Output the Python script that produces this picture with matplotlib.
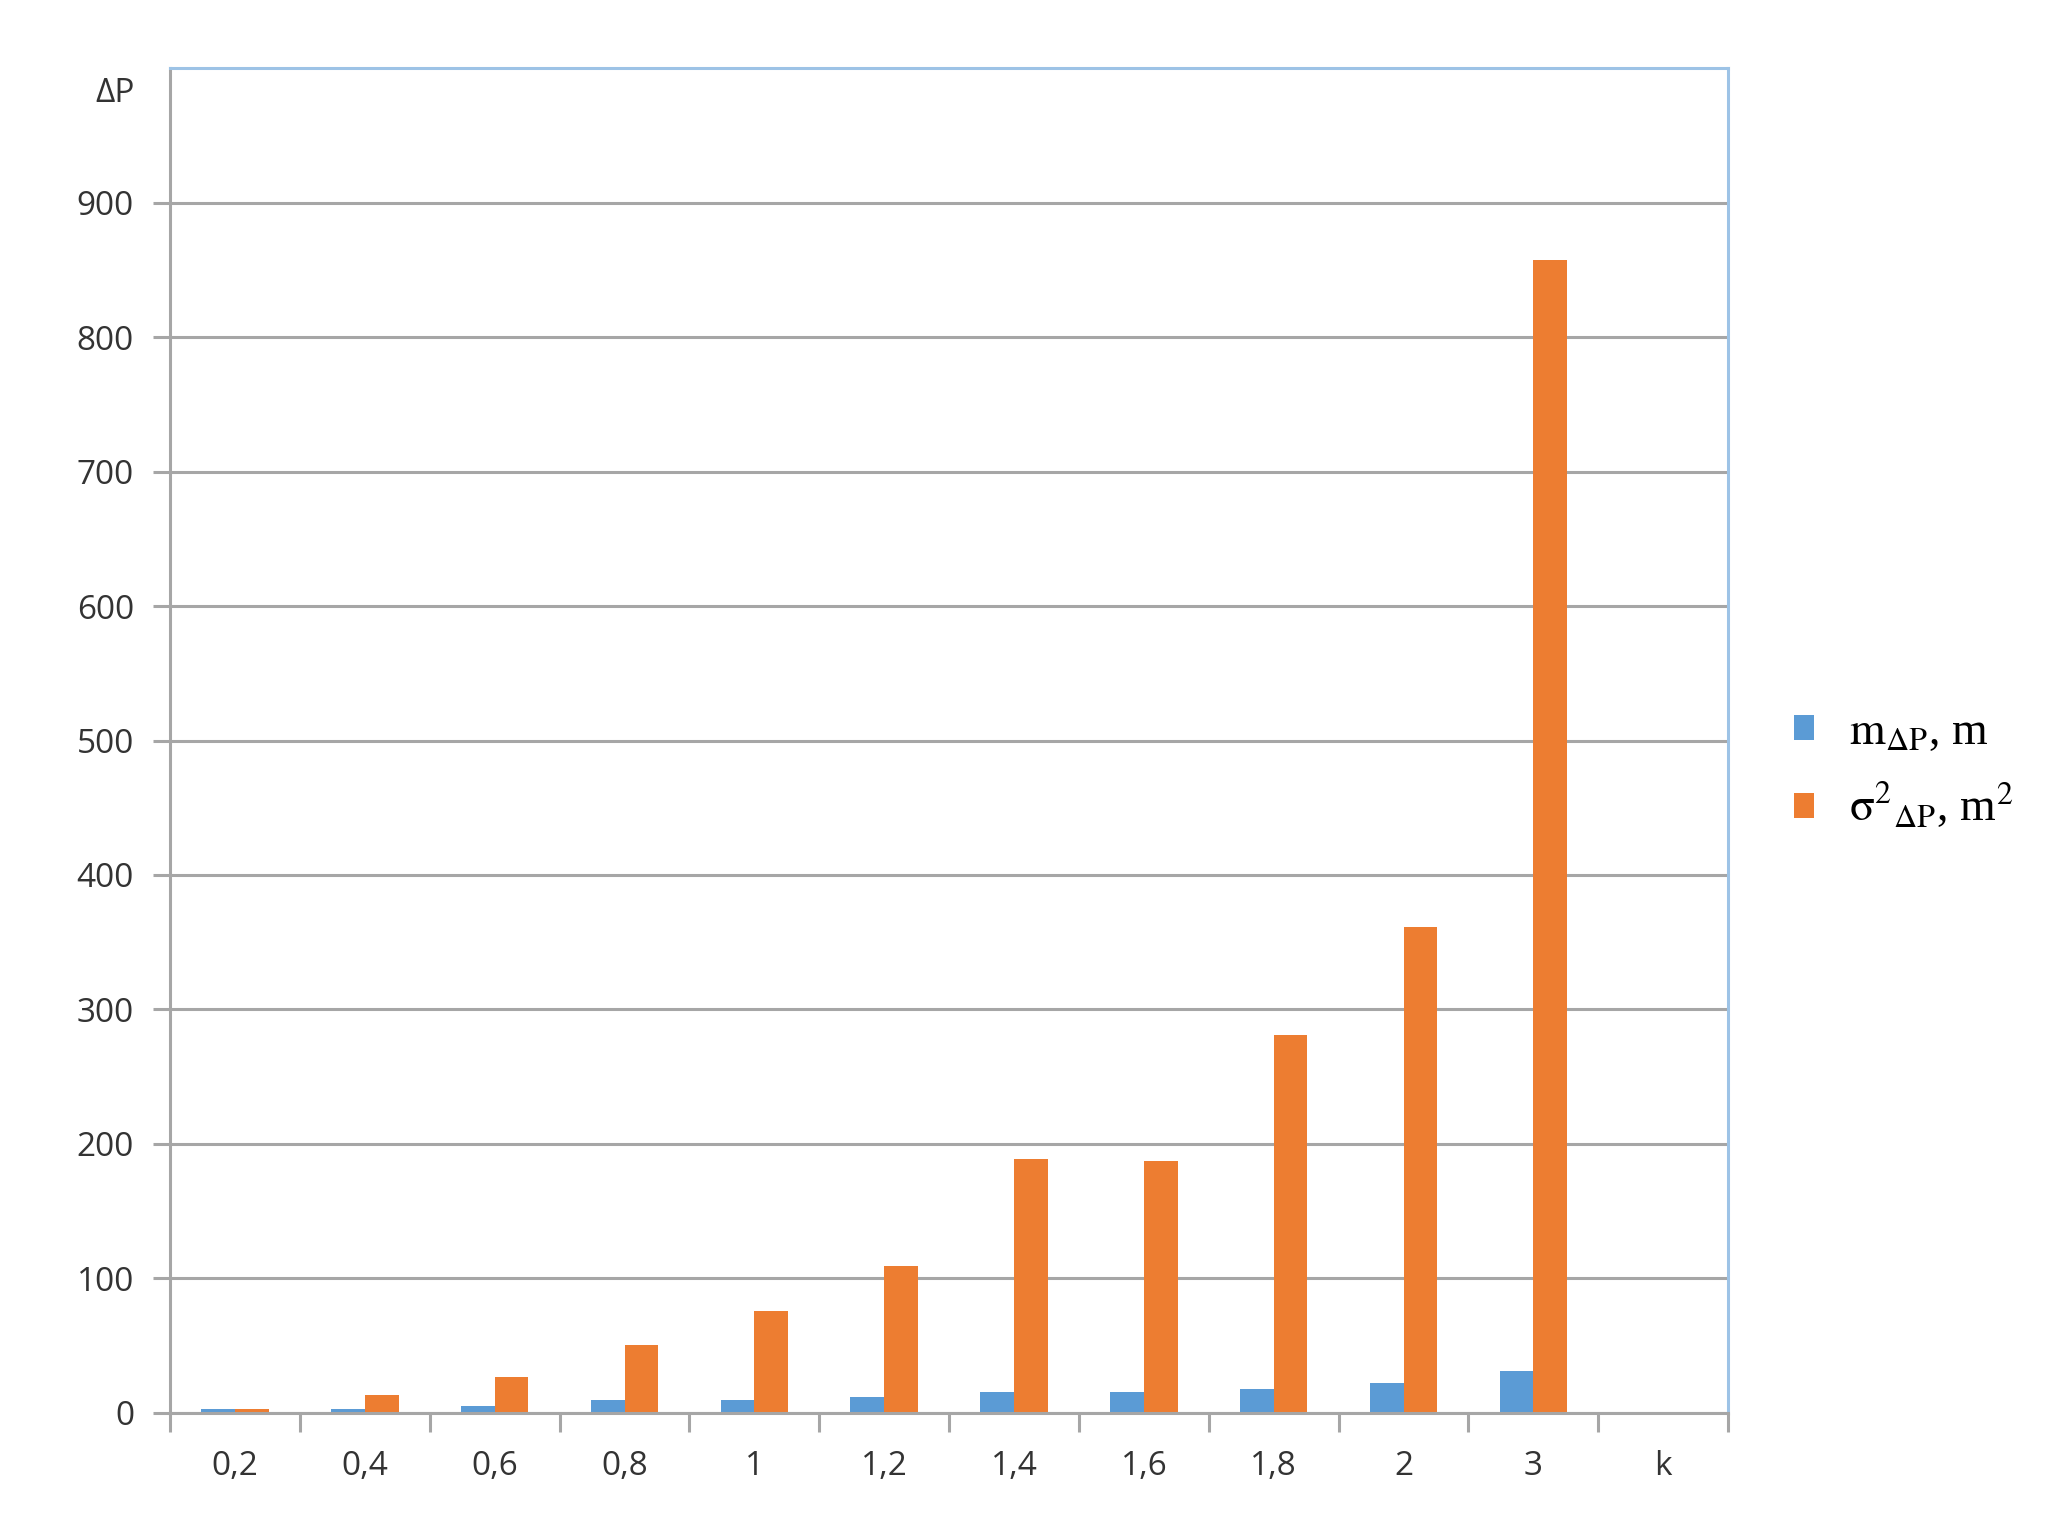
import numpy as np
import matplotlib
matplotlib.use("Agg")
import matplotlib.pyplot as plt

# values
categories = ["0,2", "0,4", "0,6", "0,8", "1", "1,2", "1,4", "1,6", "1,8", "2", "3", "k"]
m_dp = [3, 3, 5.5, 9.5, 9.5, 11.5, 15.5, 15.5, 18, 22.5, 31, 0]
sigma2_dp = [3, 13.5, 26.5, 50.5, 76, 109, 189, 187, 281, 361, 857, 0]
yticks = [0, 100, 200, 300, 400, 500, 600, 700, 800, 900]

blue = "#5B9BD5"
orange = "#ED7D31"
grid_col = "#A6A6A6"
txt_col = "#333333"

plt.rcParams['font.family'] = ['Open Sans', 'DejaVu Sans']
plt.rcParams['mathtext.fontset'] = 'stix'

fig = plt.figure(figsize=(20.5, 15.4), dpi=100)
ax = fig.add_axes([0.083, 0.0825, 0.76, 0.8733])

x = np.arange(len(categories))
w = 0.26
ax.bar(x - w / 2, m_dp, w, color=blue, label=r"$\mathrm{m_{\Delta P}}$, m", zorder=3)
ax.bar(x + w / 2, sigma2_dp, w, color=orange, label=r"$\mathrm{\sigma^2{}_{\Delta P}}$, m$^2$", zorder=3)

ax.set_xlim(-0.5, len(categories) - 0.5)
ax.set_ylim(0, 1000)

ax.set_yticks(yticks)
ax.set_yticklabels([str(v) for v in yticks], fontsize=24, color=txt_col)
ax.yaxis.grid(True, color=grid_col, linewidth=2.2, zorder=0)
ax.tick_params(axis='y', length=12, width=2.2, color=grid_col, pad=14)

ax.set_xticks(x)
ax.set_xticklabels(categories, fontsize=24, color=txt_col)
ax.set_xticks(np.arange(-0.5, len(categories)), minor=True)
ax.tick_params(axis='x', which='major', length=0, pad=27)
ax.tick_params(axis='x', which='minor', length=14, width=2.2, color=grid_col)

for s in ["left", "bottom"]:
    ax.spines[s].set_color(grid_col)
    ax.spines[s].set_linewidth(2.2)
for s in ["top", "right"]:
    ax.spines[s].set_color("#9DC3E6")
    ax.spines[s].set_linewidth(2.2)
ax.spines["bottom"].set_zorder(4)

ax.text(-0.77, 981, "ΔP", fontsize=24, color=txt_col, ha="right", va="center")

fig.legend(loc="center left", bbox_to_anchor=(0.866, 0.499), frameon=False,
           prop={'family': 'Liberation Serif', 'size': 33},
           handlelength=0.45, handleheight=0.45, handletextpad=0.75, labelspacing=0.6,
           borderaxespad=0)

fig.savefig("out.png", dpi=100, facecolor="white")
